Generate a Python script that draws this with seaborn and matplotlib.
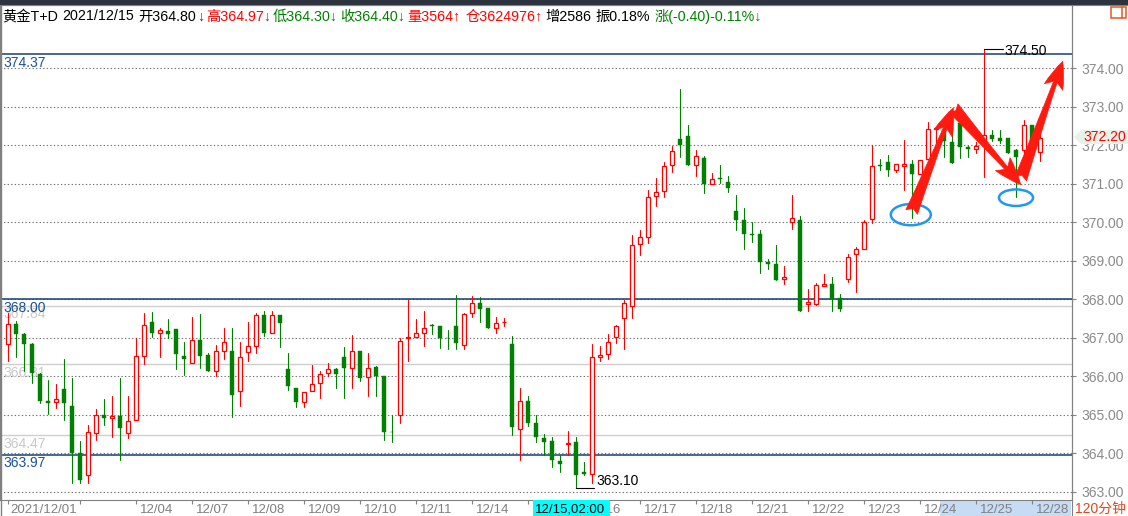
import numpy as np
import pandas as pd
import matplotlib
matplotlib.use("Agg")
import matplotlib.pyplot as plt
import seaborn as sns
from matplotlib.patches import Rectangle, Polygon, Ellipse
from matplotlib.lines import Line2D

#****************************************
# 120-minute bars, gold T+D
opens = [366.83, 367.36, 367.09, 366.84, 366.06, 365.36, 365.33, 365.68, 365.24, 364.00,
         363.44, 364.54, 365.00, 364.92, 364.96, 364.53, 364.86, 366.54, 367.41, 367.12,
         367.18, 367.23, 366.53, 366.34, 366.95, 366.56, 366.13, 366.67, 366.66, 365.61,
         366.63, 366.80, 367.59, 367.14, 367.59, 366.19, 365.69, 365.33, 365.62, 365.82,
         366.08, 366.19, 366.50, 366.21, 366.67, 365.98, 366.24, 366.01, 364.57, 365.00,
         367.01, 367.03, 367.12, 367.33, 367.31, 367.01, 367.31, 366.81, 367.64, 367.91,
         367.77, 367.27, 367.41, 366.84, 364.63, 365.37, 364.79, 364.40, 364.33, 363.81,
         364.24, 364.29, 363.52, 363.47, 366.50, 366.58, 367.03, 367.51, 367.83, 369.43,
         369.62, 370.69, 370.82, 371.50, 372.17, 372.23, 371.50, 371.68, 371.00, 371.14,
         371.06, 370.29, 370.05, 369.69, 369.69, 368.98, 368.91, 368.52, 370.02, 370.05,
         367.87, 367.88, 368.36, 368.39, 368.03, 368.52, 369.17, 369.32, 370.10, 371.48,
         371.57, 371.37, 371.47, 371.52, 371.26, 371.65, 372.43, 372.40, 372.09, 372.59,
         371.95, 371.90, 372.00, 372.27, 372.19, 372.19, 371.89, 371.88, 372.52, 371.82]
highs = [367.64, 367.45, 367.12, 366.86, 366.08, 365.91, 365.81, 366.45, 365.95, 364.33,
         364.74, 365.15, 365.42, 365.50, 365.95, 365.50, 366.99, 367.65, 367.68, 367.27,
         367.48, 367.23, 366.90, 367.55, 367.61, 366.62, 366.82, 367.25, 367.25, 366.89,
         367.42, 367.65, 367.70, 367.70, 367.60, 366.60, 365.70, 365.60, 366.30, 366.15,
         366.34, 366.23, 366.76, 367.08, 366.67, 366.60, 366.27, 366.01, 365.00, 367.01,
         368.00, 367.48, 367.70, 367.37, 367.31, 367.20, 368.11, 367.65, 368.09, 368.05,
         367.77, 367.53, 367.51, 367.05, 365.69, 365.50, 364.99, 364.51, 364.42, 363.95,
         364.59, 364.44, 363.77, 366.84, 366.79, 367.10, 367.33, 367.98, 369.67, 369.79,
         370.83, 371.14, 371.58, 371.99, 373.45, 372.54, 371.87, 371.72, 371.29, 371.48,
         371.20, 370.70, 370.37, 370.00, 369.79, 369.04, 369.41, 368.86, 370.70, 370.16,
         368.28, 368.42, 368.67, 368.57, 368.13, 369.19, 369.35, 370.05, 372.00, 371.65,
         371.76, 371.51, 372.14, 371.61, 371.63, 372.60, 372.47, 372.60, 372.48, 372.90,
         371.99, 372.08, 374.50, 372.39, 372.39, 372.19, 371.90, 372.65, 372.52, 372.32]
lows = [366.41, 366.51, 366.13, 365.82, 365.32, 365.03, 365.17, 364.86, 363.23, 363.23,
        363.23, 364.34, 364.73, 364.42, 363.82, 364.39, 364.86, 366.32, 367.03, 366.51,
        367.01, 366.19, 366.04, 366.34, 366.23, 366.13, 366.01, 366.45, 364.94, 365.24,
        366.41, 366.60, 367.06, 367.12, 366.77, 365.65, 365.20, 365.20, 365.62, 365.43,
        366.02, 365.69, 365.43, 365.69, 365.87, 365.50, 365.50, 364.34, 364.29, 364.80,
        366.41, 367.03, 366.80, 367.10, 366.75, 366.70, 366.70, 366.70, 367.55, 367.42,
        367.27, 367.14, 367.32, 364.48, 363.84, 364.72, 364.30, 363.95, 363.64, 363.51,
        363.95, 363.10, 363.43, 363.23, 366.40, 366.46, 366.86, 366.71, 367.51, 369.15,
        369.47, 370.43, 370.66, 371.31, 371.70, 371.49, 371.20, 370.76, 371.00, 371.02,
        370.79, 369.80, 369.31, 369.49, 368.69, 368.79, 368.51, 368.39, 369.84, 367.70,
        367.71, 367.85, 368.34, 367.71, 367.71, 368.46, 368.20, 369.30, 369.99, 371.35,
        371.20, 371.31, 370.83, 370.12, 371.26, 371.65, 371.90, 371.70, 371.54, 371.66,
        371.70, 371.80, 371.18, 372.11, 372.06, 371.80, 370.66, 371.76, 371.70, 371.59]
closes = [367.36, 367.09, 366.84, 366.10, 365.37, 365.32, 365.42, 365.32, 364.01, 363.32,
          364.57, 365.00, 364.91, 364.96, 364.67, 364.84, 366.53, 367.33, 367.12, 367.20,
          367.11, 366.59, 366.46, 366.95, 366.54, 366.13, 366.66, 366.89, 365.52, 366.50,
          366.78, 367.59, 367.14, 367.59, 367.38, 365.76, 365.33, 365.59, 365.81, 366.06,
          366.19, 366.07, 366.21, 366.67, 365.97, 366.23, 366.01, 364.57, 364.55, 366.92,
          367.02, 367.14, 367.25, 367.32, 367.01, 366.99, 366.86, 367.61, 367.90, 367.76,
          367.27, 367.38, 367.42, 364.68, 365.35, 364.80, 364.42, 364.31, 363.82, 363.72,
          364.26, 363.43, 363.47, 366.50, 366.55, 366.89, 367.31, 367.90, 369.40, 369.61,
          370.67, 370.80, 371.47, 371.86, 372.01, 371.49, 371.73, 371.00, 371.13, 371.13,
          370.89, 370.07, 369.70, 369.68, 368.98, 368.92, 368.51, 368.57, 370.12, 367.71,
          367.94, 368.37, 368.39, 368.00, 367.76, 369.09, 369.30, 370.02, 371.47, 371.47,
          371.37, 371.51, 371.52, 371.26, 371.63, 372.43, 372.46, 372.10, 371.55, 371.96,
          371.90, 371.99, 372.27, 372.17, 372.11, 371.80, 371.70, 372.52, 371.74, 372.20]

# date labels on the time axis (bar index -> label); 12/15 sits under the cursor box
tick_bars = [0, 9, 16, 23, 30, 37, 44, 51, 58, 65, 72, 79, 86, 93, 100, 107, 114, 121, 128]
tick_labels = ["2021/12/01", "", "12/04", "12/07", "12/08", "12/09", "12/10", "12/11",
               "12/14", "", "12/16", "12/17", "12/18", "12/21", "12/22", "12/23",
               "12/24", "12/25", "12/28"]
cursor_label = "12/15,02:00"

navy_levels = [374.37, 368.00, 363.97]
gray_levels = [367.84, 366.31, 364.47]
price_ticks = list(range(363, 375))
last_price = 372.20
high_bar, high_price = 122, 374.50
low_bar, low_price = 71, 363.10

# hand-drawn marks: arrows (bar, price) -> (bar, price), circles (bar, price)
arrows = [((112.96, 370.27), (118.16, 372.97)),
          ((118.16, 372.97), (126.59, 370.98)),
          ((126.59, 371.13), (131.84, 374.18))]
circles = [(112.85, 370.20, 5.0, 0.55), (126.0, 370.64, 4.25, 0.43)]

#****************************************
W, H = 1128, 516
RED = "#ff0000"
GREEN = "#008000"
GRAY = "#808080"
NAVY = "#143f72"

sns.set_theme(style="white")
plt.rcParams["font.family"] = ["Liberation Sans", "Noto Sans CJK SC", "DejaVu Sans"]

def fx(x):
    return x / W

def fy(y):
    return 1 - y / H

fig = plt.figure(figsize=(W / 100, H / 100), dpi=100, facecolor="white")
ax = fig.add_axes([0, 16 / H, 1072 / W, 495 / H])

df = pd.DataFrame({"bar": np.arange(len(opens)), "open": opens, "high": highs,
                   "low": lows, "close": closes})
df["dir"] = np.where(df["close"] >= df["open"], "up", "down")

# wicks
wicks = pd.concat([
    df[["bar", "high", "dir"]].rename(columns={"high": "price"}),
    df[["bar", "low", "dir"]].rename(columns={"low": "price"}),
])
sns.lineplot(data=wicks, x="bar", y="price", units="bar", estimator=None,
             hue="dir", palette={"up": RED, "down": GREEN}, legend=False,
             lw=0.8, ax=ax, zorder=3)

# bodies
lo = np.minimum(df["open"], df["close"])
hgt = np.maximum((df["close"] - df["open"]).abs(), 0.012)
up = df["dir"] == "up"
ax.bar(df["bar"][up], hgt[up], bottom=lo[up], width=0.52, facecolor="white",
       edgecolor=RED, linewidth=0.9, zorder=4)
ax.bar(df["bar"][~up], hgt[~up], bottom=lo[~up], width=0.62, facecolor=GREEN,
       edgecolor=GREEN, linewidth=0.3, zorder=4)

ax.set_xlim(-1, 133)
ax.set_ylim(362.792, 375.643)
ax.set_xlabel("")
ax.set_ylabel("")

# grid + reference levels
ax.set_yticks(price_ticks)
ax.set_yticklabels([f"{v:.2f}" for v in price_ticks])
ax.yaxis.tick_right()
ax.grid(axis="y", linestyle=(0, (1.2, 2.0)), color="#707070", lw=0.8)
ax.set_axisbelow(True)
ax.tick_params(axis="y", right=True, length=3, width=0.8, color=GRAY,
               labelcolor="#8a8a8a", labelsize=10, pad=4)
ax.set_xticks(tick_bars)
ax.set_xticklabels([])
ax.tick_params(axis="x", bottom=True, length=3, width=0.8, color=GRAY)
for s in ax.spines.values():
    s.set_color(GRAY)
    s.set_linewidth(0.8)

for v in gray_levels:
    ax.axhline(v, color="#cfcfcf", lw=1.0, zorder=1)
    ax.annotate(f"{v:.2f}", xy=(0, v), xycoords=("axes fraction", "data"),
                xytext=(2.2, -6.2), textcoords="offset points", va="center",
                fontsize=10, color="#c8c8c8", zorder=1)
for v in navy_levels:
    ax.axhline(v, color=NAVY, lw=1.1, zorder=2)
    ax.annotate(f"{v:.2f}", xy=(0, v), xycoords=("axes fraction", "data"),
                xytext=(2.2, -6.2), textcoords="offset points", va="center",
                fontsize=10, color="#1a5296", zorder=2)

# extreme markers
ax.plot([high_bar, high_bar + 2.4], [high_price, high_price], color="black", lw=0.8, zorder=5)
ax.text(high_bar + 2.5, high_price, f"{high_price:.2f}", va="center_baseline",
        fontsize=10, color="black", zorder=5)
ax.plot([low_bar, low_bar + 2.2], [low_price, low_price], color="black", lw=0.8, zorder=5)
ax.text(low_bar + 2.5, low_price, f"{low_price:.2f}", va="bottom",
        fontsize=10, color="black", zorder=5)

# arrows and circles
for tail, tip in arrows:
    ax.annotate("", xy=tip, xytext=tail,
                arrowprops=dict(arrowstyle="fancy,head_length=0.7,head_width=0.5,tail_width=0.32",
                                fc="#ff1a0f", ec="#ff1a0f", lw=0.5, shrinkA=0, shrinkB=0,
                                mutation_scale=28), zorder=7)
for cx, cy, w, h in circles:
    ax.add_patch(Ellipse((cx, cy), w, h, fill=False, ec="#2196f3", lw=1.8, zorder=6))

# time-axis labels
for b, lab in zip(tick_bars, tick_labels):
    if not lab:
        continue
    off = 0.25 if b == 0 else 0.5
    ax.text(b + off, -0.026, lab, transform=ax.get_xaxis_transform(), ha="left",
            va="baseline", fontsize=9.5, color=GRAY, clip_on=False)

#****************************************
# screen chrome around the chart
fig.patches.append(Rectangle((fx(940), fy(516)), fx(131), 15 / H, transform=fig.transFigure,
                             fc="#c6dbf4", ec="none", zorder=-1))
fig.patches.append(Rectangle((fx(533), fy(516)), fx(77), 16 / H, transform=fig.transFigure,
                             fc="#00ffff", ec="none", zorder=1))
fig.text(fx(535), fy(513), cursor_label, fontsize=9.5, color="black", va="baseline", zorder=2)
fig.text(fx(1075), fy(513), "120分钟", fontsize=10, color="#e2461b", va="baseline")

fig.patches.append(Rectangle((0, fy(4.5)), 1, 4.5 / H, transform=fig.transFigure,
                             fc="#2c333f", ec="none", zorder=1))
fig.lines.append(Line2D([0, 1], [fy(5), fy(5)], transform=fig.transFigure, color=GRAY, lw=0.8))
fig.lines.append(Line2D([fx(1072), fx(1072)], [fy(5), 0], transform=fig.transFigure,
                        color=GRAY, lw=0.8))
fig.lines.append(Line2D([fx(0.5), fx(0.5)], [fy(5), 0], transform=fig.transFigure,
                        color=GRAY, lw=1.0))
fig.patches.append(Rectangle((fx(1111), fy(18)), fx(15), 11 / H, transform=fig.transFigure,
                             fill=False, ec="#e8561e", lw=1.1))
fig.lines.append(Line2D([fx(1122), fx(1122)], [fy(18), fy(7)], transform=fig.transFigure,
                        color="#e8561e", lw=1.1))

# last price tag
tag = [(1074, 137), (1081, 130), (1128, 130), (1128, 144), (1081, 144)]
fig.patches.append(Polygon([(fx(x), fy(y)) for x, y in tag], transform=fig.transFigure,
                           fc="#e8f3e8", ec="none", zorder=1))
fig.text(fx(1083), fy(137), f"{last_price:.2f}", fontsize=10, color=RED, va="center", zorder=2)

# header line
header = [("黄金T+D", 2, "black"), ("2021/12/15", 62, "black"), ("开364.80", 138, "black"),
          ("↓", 197, "#1d3a66"), ("高364.97↓", 206, RED), ("低364.30↓", 273, GREEN),
          ("收364.40↓", 340, GREEN), ("量3564↑", 407, RED), ("仓3624976↑", 466, RED),
          ("增2586", 545, "black"), ("振0.18%", 595, "black"),
          ("涨(-0.40)-0.11%↓", 655, GREEN)]
for txt, x, col in header:
    fig.text(fx(x), fy(20.5), txt, fontsize=10.3, color=col, va="baseline")

fig.savefig("out.png", dpi=100, facecolor="white")
